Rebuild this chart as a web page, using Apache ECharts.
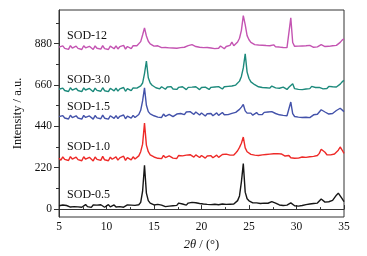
<!DOCTYPE html>
<html>
<head>
<meta charset="utf-8">
<script src="https://cdn.jsdelivr.net/npm/echarts@6/dist/echarts.min.js"></script>
<style>
  html, body { margin: 0; padding: 0; background: #fff; }
  #xrd-container { width: 367px; height: 256px; }
</style>
</head>
<body>
<div id="xrd-container"></div>
<script>
// 2θ grid, 0.2° step
const twoTheta = [
  5.0, 5.2, 5.4, 5.6, 5.8, 6.0, 6.2, 6.4, 6.6, 6.8,
  7.0, 7.2, 7.4, 7.6, 7.8, 8.0, 8.2, 8.4, 8.6, 8.8,
  9.0, 9.2, 9.4, 9.6, 9.8, 10.0, 10.2, 10.4, 10.6, 10.8,
  11.0, 11.2, 11.4, 11.6, 11.8, 12.0, 12.2, 12.4, 12.6, 12.8,
  13.0, 13.2, 13.4, 13.6, 13.8, 14.0, 14.2, 14.4, 14.6, 14.8,
  15.0, 15.2, 15.4, 15.6, 15.8, 16.0, 16.2, 16.4, 16.6, 16.8,
  17.0, 17.2, 17.4, 17.6, 17.8, 18.0, 18.2, 18.4, 18.6, 18.8,
  19.0, 19.2, 19.4, 19.6, 19.8, 20.0, 20.2, 20.4, 20.6, 20.8,
  21.0, 21.2, 21.4, 21.6, 21.8, 22.0, 22.2, 22.4, 22.6, 22.8,
  23.0, 23.2, 23.4, 23.6, 23.8, 24.0, 24.2, 24.4, 24.6, 24.8,
  25.0, 25.2, 25.4, 25.6, 25.8, 26.0, 26.2, 26.4, 26.6, 26.8,
  27.0, 27.2, 27.4, 27.6, 27.8, 28.0, 28.2, 28.4, 28.6, 28.8,
  29.0, 29.2, 29.4, 29.6, 29.8, 30.0, 30.2, 30.4, 30.6, 30.8,
  31.0, 31.2, 31.4, 31.6, 31.8, 32.0, 32.2, 32.4, 32.6, 32.8,
  33.0, 33.2, 33.4, 33.6, 33.8, 34.0, 34.2, 34.4, 34.6, 34.8,
  35.0
]

const sod05 = [
  18, 10, 22, 12, 19, 24, 11, 21, 13, 23,
  12, 21, 10, 20, 24, 13, 19, 9, 22, 14,
  21, 11, 23, 13, 10, 20, 24, 12, 19, 22,
  11, 20, 13, 23, 10, 19, 22, 12, 21, 14,
  20, 14, 23, 36, 95, 233, 85, 45, 32, 26,
  22, 16, 25, 15, 21, 24, 13, 23, 16, 26,
  18, 28, 20, 32, 22, 27, 30, 21, 32, 26,
  36, 28, 34, 25, 30, 21, 27, 17, 25, 16,
  24, 15, 26, 17, 23, 16, 27, 19, 25, 28,
  26, 30, 27, 35, 45, 70, 145, 242, 90, 55,
  44, 36, 33, 28, 33, 24, 30, 23, 32, 26,
  31, 34, 40, 35, 32, 25, 22, 28, 19, 26,
  21, 28, 33, 23, 18, 24, 16, 23, 19, 15,
  24, 18, 27, 21, 30, 23, 32, 36, 54, 44,
  37, 31, 39, 33, 46, 56, 74, 85, 80, 56,
  40
]

const sod10 = [
  271, 260, 277, 264, 274, 258, 279, 266, 261, 276,
  263, 273, 257, 278, 265, 260, 275, 267, 256, 277,
  264, 274, 259, 280, 262, 272, 257, 276, 265, 261,
  277, 260, 272, 264, 281, 259, 274, 266, 262, 278,
  266, 275, 283, 305, 345, 457, 340, 305, 288, 280,
  277, 283, 270, 279, 268, 285, 274, 269, 283, 275,
  271, 280, 269, 285, 275, 283, 273, 287, 278, 289,
  283, 276, 288, 279, 274, 285, 277, 271, 282, 275,
  284, 273, 281, 287, 275, 283, 290, 282, 292, 286,
  287, 292, 287, 298, 310, 328, 350, 383, 325, 305,
  297, 291, 298, 287, 294, 285, 295, 288, 297, 290,
  299, 292, 301, 294, 293, 295, 287, 293, 284, 282,
  277, 285, 273, 281, 270, 279, 271, 267, 277, 269,
  275, 267, 278, 270, 280, 273, 285, 296, 318, 320,
  302, 289, 286, 288, 288, 293, 303, 313, 330, 314,
  296
]

const sod15 = [
  491, 481, 497, 484, 494, 479, 499, 486, 482, 496,
  484, 493, 478, 498, 487, 481, 495, 485, 478, 497,
  485, 495, 480, 499, 483, 493, 478, 496, 486, 482,
  497, 481, 493, 485, 500, 480, 494, 487, 483, 498,
  487, 496, 503, 525, 575, 644, 552, 518, 506, 499,
  496, 502, 489, 499, 487, 505, 493, 488, 503, 494,
  491, 501, 505, 495, 508, 512, 502, 516, 506, 518,
  513, 503, 516, 506, 500, 511, 501, 495, 507, 498,
  508, 496, 506, 511, 498, 507, 513, 501, 510, 502,
  500, 509, 502, 514, 520, 530, 542, 556, 522, 510,
  505, 510, 499, 508, 513, 502, 511, 503, 514, 505,
  516, 507, 518, 509, 508, 510, 501, 510, 498, 507,
  496, 505, 569, 507, 492, 501, 489, 498, 487, 496,
  488, 498, 486, 496, 501, 491, 504, 514, 528, 524,
  516, 506, 505, 508, 508, 514, 524, 530, 536, 526,
  518
]

const sod30 = [
  637, 627, 643, 630, 640, 625, 645, 632, 628, 642,
  630, 639, 624, 644, 633, 627, 641, 631, 624, 643,
  631, 641, 626, 645, 629, 639, 624, 642, 632, 628,
  643, 627, 639, 631, 646, 626, 640, 633, 629, 644,
  634, 643, 648, 655, 670, 720, 786, 698, 670, 658,
  652, 645, 654, 639, 650, 642, 637, 649, 640, 651,
  638, 648, 636, 647, 639, 650, 641, 635, 647, 638,
  648, 639, 650, 641, 635, 646, 637, 648, 639, 636,
  647, 638, 649, 640, 651, 642, 638, 650, 641, 652,
  648, 654, 650, 659, 667, 680, 705, 750, 825, 728,
  694, 676, 667, 661, 657, 650, 658, 646, 655, 645,
  653, 643, 654, 645, 644, 647, 642, 638, 648, 639,
  636, 647, 650, 666, 640, 649, 636, 646, 635, 645,
  638, 648, 640, 652, 656, 646, 645, 647, 647, 639,
  649, 641, 652, 643, 650, 650, 649, 653, 664, 676,
  684
]

const sod12 = [
  861, 851, 867, 854, 864, 849, 869, 856, 852, 866,
  854, 863, 848, 868, 857, 851, 865, 855, 848, 867,
  855, 865, 850, 869, 853, 863, 848, 866, 856, 852,
  867, 851, 863, 855, 870, 850, 864, 857, 853, 868,
  858, 868, 875, 890, 925, 963, 920, 892, 878, 870,
  866, 856, 868, 858, 858, 861, 859, 860, 857, 859,
  856, 866, 855, 865, 858, 868, 860, 856, 869, 861,
  874, 866, 864, 864, 860, 862, 858, 859, 859, 861,
  856, 866, 853, 863, 855, 867, 857, 852, 864, 856,
  870, 887, 868, 876, 888, 908, 950, 1028, 980, 922,
  900, 886, 878, 874, 868, 872, 862, 871, 861, 869,
  860, 868, 858, 873, 862, 861, 861, 859, 859, 858,
  858, 868, 1016, 885, 865, 856, 866, 857, 867, 859,
  868, 858, 870, 861, 860, 862, 862, 864, 874, 864,
  864, 866, 865, 858, 868, 869, 870, 873, 886, 898,
  905
]

const sampleNames = ['SOD-0.5', 'SOD-1.0', 'SOD-1.5', 'SOD-3.0', 'SOD-12']
const sampleData = [sod05, sod10, sod15, sod30, sod12]
const labelAt = [[5.85, 74], [5.85, 331], [5.85, 541], [5.85, 686], [5.85, 920]]
const yLabelTicks = [0, 220, 440, 660, 880]
const yMinorTicks = [110, 330, 550, 770, 990]

const colors = ['#161616', '#ee2a28', '#4352aa', '#1d8a7c', '#c454b2']
const serif = "'Liberation Serif', 'Times New Roman', serif"

const chart = echarts.init(document.getElementById('xrd-container'))

const series = sampleData.map(function (ys, k) {
  return {
    name: sampleNames[k],
    type: 'line',
    showSymbol: false,
    data: ys.map(function (y, i) { return [twoTheta[i], y] }),
    lineStyle: { color: colors[k], width: 1.4 },
    itemStyle: { color: colors[k] },
    markPoint: {
      symbol: 'circle',
      symbolSize: 0,
      silent: true,
      label: {
        show: true,
        position: 'inside',
        align: 'left',
        verticalAlign: 'middle',
        formatter: sampleNames[k],
        color: '#111',
        fontFamily: serif,
        fontSize: 12
      },
      data: [{ coord: labelAt[k] }]
    }
  }
})

const option = {
  animation: false,
  backgroundColor: '#fff',
  grid: {
    left: 59,
    right: 23,
    top: 10,
    bottom: 39,
    show: true,
    borderColor: '#333',
    borderWidth: 1
  },
  xAxis: {
    type: 'value',
    min: 5,
    max: 35,
    interval: 5,
    name: '{i|2θ} / (°)',
    nameLocation: 'middle',
    nameGap: 19,
    nameTextStyle: {
      color: '#111',
      fontFamily: serif,
      fontSize: 12.5,
      rich: {
        i: { fontStyle: 'italic', fontFamily: serif, fontSize: 12.5, color: '#111' }
      }
    },
    splitLine: { show: false },
    axisLine: { lineStyle: { color: '#333', width: 1 } },
    axisTick: { inside: true, length: 4, lineStyle: { color: '#333' } },
    minorTick: { show: true, splitNumber: 2, length: 2, lineStyle: { color: '#333' } },
    axisLabel: { color: '#111', fontFamily: serif, fontSize: 11.5, margin: 4 }
  },
  yAxis: [
    {
      type: 'value',
      min: -42,
      max: 1058,
      name: 'Intensity / a.u.',
      nameLocation: 'middle',
      nameGap: 35,
      nameTextStyle: { color: '#111', fontFamily: serif, fontSize: 12.5 },
      splitLine: { show: false },
      axisLine: { show: true, lineStyle: { color: '#333', width: 1 } },
      axisTick: { show: true, length: 5, customValues: yLabelTicks, lineStyle: { color: '#333' } },
      axisLabel: { customValues: yLabelTicks, color: '#111', fontFamily: serif, fontSize: 11.5, margin: 7 }
    },
    {
      type: 'value',
      min: -42,
      max: 1058,
      position: 'left',
      splitLine: { show: false },
      axisLine: { show: false },
      axisTick: { show: true, length: 3, customValues: yMinorTicks, lineStyle: { color: '#333' } },
      axisLabel: { show: false }
    }
  ],
  series: series
}

chart.setOption(option)
</script>
</body>
</html>
